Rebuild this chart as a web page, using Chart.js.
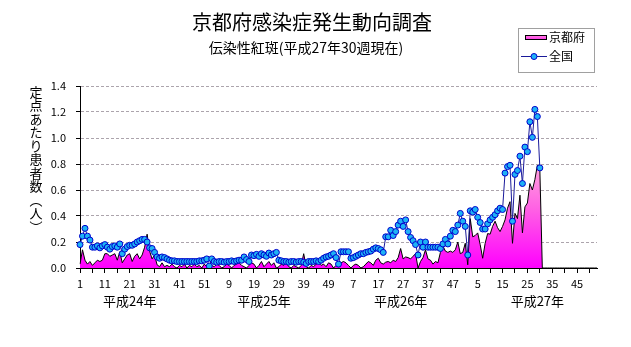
<!DOCTYPE html>
<html lang="ja">
<head>
<meta charset="utf-8">
<script src="https://cdn.jsdelivr.net/npm/chart.js@4.4.1/dist/chart.umd.min.js"></script>
<style>
  html, body { margin: 0; padding: 0; background: #fff; }
  #wrap { width: 631px; height: 347px; }
</style>
</head>
<body>
<div id="wrap"><canvas id="trendChart" width="631" height="347"></canvas></div>
<script>
// 京都府 / 全国 定点あたり患者数 (伝染性紅斑), 平成24年第1週〜平成27年第30週
const mainTitle = '京都府感染症発生動向調査';
const subTitle = '伝染性紅斑(平成27年30週現在)';
const yTitle = '定点あたり患者数︵人︶';

const yearNames = ['平成24年', '平成25年', '平成26年', '平成27年'];
const yearWeeks = [52, 52, 52, 53];

const yTicks = [0, 0.2, 0.4, 0.6, 0.8, 1.0, 1.2, 1.4];

const kyoto2012 = [
  0.03, 0.14, 0.06, 0.03, 0.05, 0.02, 0.04, 0.06, 0.05, 0.06,
  0.11, 0.11, 0.09, 0.10, 0.11, 0.06, 0.125, 0.04, 0.07, 0.10,
  0.11, 0.05, 0.09, 0.11, 0.07, 0.10, 0.16, 0.26, 0.13, 0.07,
  0.10, 0.025, 0.01, 0.04, 0.01, 0.02, 0.01, 0.03, 0.01, 0.0,
  0.02, 0.01, 0.03, 0.0, 0.02, 0.01, 0.03, 0.01, 0.02, 0.0,
  0.03, 0.01
];
const kyoto2013 = [
  0.0, 0.02, 0.01, 0.03, 0.02, 0.0, 0.01, 0.03, 0.02, 0.0,
  0.02, 0.03, 0.04, 0.02, 0.01, 0.0, 0.02, 0.04, 0.03, 0.0,
  0.02, 0.05, 0.01, 0.03, 0.05, 0.02, 0.04, 0.0, 0.01, 0.03,
  0.02, 0.04, 0.01, 0.0, 0.02, 0.01, 0.0, 0.02, 0.11, 0.01,
  0.0, 0.02, 0.01, 0.03, 0.04, 0.02, 0.03, 0.01, 0.04, 0.03,
  0.0, 0.02
];
const kyoto2014 = [
  0.01, 0.04, 0.05, 0.04, 0.02, 0.0, 0.02, 0.03, 0.02, 0.0,
  0.01, 0.03, 0.05, 0.04, 0.02, 0.06, 0.075, 0.04, 0.03, 0.045,
  0.05, 0.04, 0.06, 0.05, 0.08, 0.15, 0.07, 0.085, 0.08, 0.07,
  0.09, 0.11, 0.0, 0.05, 0.08, 0.14, 0.07, 0.06, 0.03, 0.05,
  0.04, 0.12, 0.17, 0.13, 0.12, 0.13, 0.12, 0.14, 0.20, 0.11,
  0.12, 0.19
];
// weeks after 30 are not yet reported and sit on the baseline
const kyoto2015 = [
  0.025, 0.38, 0.24, 0.25, 0.27, 0.18, 0.075, 0.19, 0.265, 0.26,
  0.32, 0.36, 0.31, 0.28, 0.32, 0.37, 0.46, 0.51, 0.19, 0.42,
  0.38, 0.56, 0.27, 0.47, 0.50, 0.65, 0.60, 0.68, 0.79, 0.76,
  0, 0, 0, 0, 0, 0, 0, 0, 0, 0,
  0, 0, 0, 0, 0, 0, 0, 0, 0, 0,
  0, 0, 0
];

const national2012 = [
  0.18, 0.245, 0.305, 0.245, 0.215, 0.16, 0.16, 0.17, 0.155, 0.17,
  0.18, 0.16, 0.145, 0.165, 0.17, 0.16, 0.185, 0.11, 0.145, 0.165,
  0.175, 0.175, 0.185, 0.20, 0.21, 0.22, 0.22, 0.20, 0.155, 0.15,
  0.12, 0.085, 0.075, 0.085, 0.08, 0.07, 0.06, 0.055, 0.055, 0.05,
  0.05, 0.05, 0.05, 0.05, 0.05, 0.05, 0.05, 0.05, 0.055, 0.055,
  0.06, 0.07
];
const national2013 = [
  0.015, 0.07, 0.05, 0.045, 0.05, 0.05, 0.045, 0.05, 0.05, 0.055,
  0.05, 0.055, 0.06, 0.06, 0.085, 0.065, 0.05, 0.10, 0.095, 0.105,
  0.09, 0.11, 0.10, 0.09, 0.115, 0.10, 0.11, 0.12, 0.06, 0.055,
  0.05, 0.05, 0.045, 0.05, 0.05, 0.045, 0.05, 0.05, 0.045, 0.035,
  0.05, 0.05, 0.05, 0.055, 0.05, 0.06, 0.075, 0.085, 0.09, 0.10,
  0.11, 0.08
];
const national2014 = [
  0.03, 0.125, 0.125, 0.125, 0.125, 0.075, 0.08, 0.09, 0.10, 0.11,
  0.11, 0.12, 0.125, 0.13, 0.145, 0.155, 0.15, 0.14, 0.12, 0.24,
  0.24, 0.29, 0.25, 0.28, 0.33, 0.36, 0.32, 0.37, 0.28, 0.235,
  0.21, 0.18, 0.10, 0.20, 0.16, 0.20, 0.16, 0.16, 0.16, 0.16,
  0.16, 0.15, 0.185, 0.22, 0.185, 0.245, 0.29, 0.28, 0.33, 0.42,
  0.36, 0.32
];
const national2015 = [
  0.10, 0.44, 0.43, 0.45, 0.39, 0.35, 0.30, 0.30, 0.34, 0.37,
  0.39, 0.41, 0.44, 0.46, 0.45, 0.73, 0.78, 0.79, 0.36, 0.72,
  0.75, 0.86, 0.65, 0.93, 0.895, 1.125, 1.005, 1.22, 1.165, 0.77
];

// week numbers restart at 1 every year
const weekLabels = yearWeeks.flatMap(n => Array.from({ length: n }, (_, k) => String(k + 1)));
const kyoto = [...kyoto2012, ...kyoto2013, ...kyoto2014, ...kyoto2015];
const national = [...national2012, ...national2013, ...national2014, ...national2015];

const FONT = "'Noto Sans CJK JP', 'Noto Sans', sans-serif";

function areaGradient(chart) {
  const { ctx, chartArea, scales } = chart;
  if (!chartArea) return '#ff40e8';
  const g = ctx.createLinearGradient(0, scales.y.getPixelForValue(0.9), 0, chartArea.bottom);
  g.addColorStop(0, '#ffb8dc');
  g.addColorStop(0.5, '#ff60e4');
  g.addColorStop(1, '#ff00ff');
  return g;
}

// titles, stacked y-axis caption, year captions and the legend box
const chartTexts = {
  id: 'chartTexts',
  afterDraw(chart) {
    const { ctx, scales: { x } } = chart;
    ctx.save();
    ctx.fillStyle = '#000';
    ctx.textAlign = 'center';
    ctx.textBaseline = 'middle';

    ctx.font = '20px ' + FONT;
    ctx.fillText(mainTitle, 312, 22);
    ctx.font = '14px ' + FONT;
    ctx.fillText(subTitle, 306, 48);

    ctx.font = '13px ' + FONT;
    [...yTitle].forEach((ch, k) => ctx.fillText(ch, 36, 92 + k * 13.5));

    const yearAt = [20, 74, 129, 184];
    ctx.font = '13px ' + FONT;
    yearNames.forEach((name, k) => ctx.fillText(name, x.getPixelForValue(yearAt[k]), 301));

    // legend
    ctx.strokeStyle = '#a0a0a0';
    ctx.lineWidth = 1;
    ctx.strokeRect(518.5, 28.5, 76, 44);

    const sw = ctx.createLinearGradient(0, 34, 0, 40);
    sw.addColorStop(0, '#ff9ad8');
    sw.addColorStop(1, '#ff30f0');
    ctx.fillStyle = sw;
    ctx.fillRect(525, 35, 22, 5);
    ctx.strokeStyle = '#000';
    ctx.strokeRect(525.5, 35.5, 21, 4);

    ctx.strokeStyle = '#1a1a9a';
    ctx.beginPath();
    ctx.moveTo(521, 56.5);
    ctx.lineTo(547, 56.5);
    ctx.stroke();
    ctx.beginPath();
    ctx.arc(534, 56.5, 3, 0, Math.PI * 2);
    ctx.fillStyle = '#1eb2f5';
    ctx.fill();
    ctx.strokeStyle = '#0000cc';
    ctx.stroke();

    ctx.fillStyle = '#000';
    ctx.textAlign = 'left';
    ctx.font = '12px ' + FONT;
    ctx.fillText('京都府', 549, 37);
    ctx.fillText('全国', 549, 56);
    ctx.restore();
  }
};

new Chart(document.getElementById('trendChart'), {
  type: 'line',
  data: {
    labels: weekLabels,
    datasets: [
      {
        label: '全国',
        data: national,
        order: 0,
        borderColor: '#1a1a9a',
        borderWidth: 1,
        pointRadius: 3,
        pointBackgroundColor: '#1eb2f5',
        pointBorderColor: '#0000cc',
        pointBorderWidth: 1,
        tension: 0,
        fill: false
      },
      {
        label: '京都府',
        data: kyoto,
        order: 1,
        borderColor: '#000',
        borderWidth: 1,
        pointRadius: 0,
        tension: 0,
        fill: 'origin',
        backgroundColor: ctx => areaGradient(ctx.chart)
      }
    ]
  },
  options: {
    responsive: false,
    animation: false,
    devicePixelRatio: 1,
    layout: { padding: { top: 86, right: 34, left: 0, bottom: 0 } },
    plugins: {
      legend: { display: false },
      title: { display: false },
      tooltip: { enabled: false }
    },
    scales: {
      x: {
        grid: {
          drawOnChartArea: false,
          tickLength: 5,
          tickColor: c => (c.index % 5 === 0 ? '#000' : 'rgba(0,0,0,0)')
        },
        border: { color: '#000', z: 1 },
        ticks: {
          autoSkip: false,
          maxRotation: 0,
          minRotation: 0,
          padding: 4,
          color: '#000',
          font: { family: FONT, size: 11 },
          callback: (v, i) => (i % 10 === 0 ? weekLabels[i] : '')
        },
        afterFit: s => { s.height = 79; }
      },
      y: {
        min: 0,
        max: 1.4,
        afterBuildTicks: s => { s.ticks = yTicks.map(v => ({ value: v })); },
        grid: { color: '#aca4ac', tickColor: '#000', tickLength: 4 },
        border: { color: '#000', dash: [3, 2] },
        ticks: {
          padding: 10,
          color: '#000',
          font: { family: FONT, size: 11 },
          callback: v => v.toFixed(1)
        },
        afterFit: s => { s.width = 80; }
      }
    }
  },
  plugins: [chartTexts]
});
</script>
</body>
</html>
